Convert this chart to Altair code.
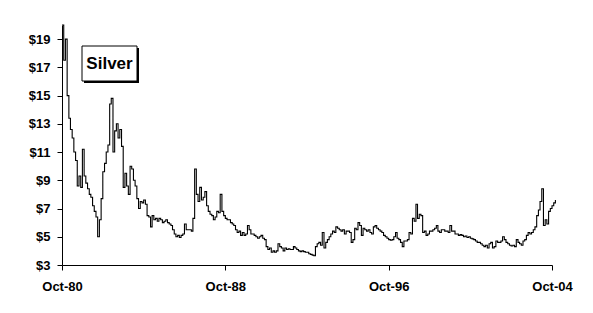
import altair as alt
import pandas as pd

# Monthly silver price (USD/oz), starting Oct 1980
prices = [
    20.0, 17.5, 19.0, 15.0, 13.4, 12.6, 12.0, 11.0, 10.4, 8.6, 9.3, 8.5,
    11.2, 9.3, 8.8, 8.4, 8.0, 7.8, 7.2, 6.8, 6.4, 5.0, 6.2, 7.7,
    9.6, 10.2, 11.0, 11.5, 14.4, 14.8, 11.0, 12.5, 13.0, 12.0, 12.6, 11.4,
    8.5, 9.5, 8.6, 8.0, 10.0, 9.8, 9.0, 8.6, 7.7, 7.0, 7.5, 7.4,
    7.6, 7.3, 6.5, 6.4, 5.7, 6.5, 6.2, 6.3, 6.1, 6.3, 6.2, 6.0,
    6.1, 6.2, 6.0, 5.9, 5.8, 5.5, 5.2, 5.0, 5.1, 4.95, 5.1, 5.2,
    5.9, 5.5, 5.5, 5.5, 5.4, 6.3, 9.8, 8.0, 7.5, 8.5, 7.6, 7.8,
    8.2, 7.2, 6.8, 6.6, 6.5, 6.2, 6.4, 6.8, 6.7, 8.0, 6.8, 6.5,
    6.3, 6.2, 6.2, 6.0, 5.9, 5.8, 5.5, 5.3, 5.4, 5.1, 5.3, 5.1,
    5.2, 5.8, 5.5, 5.2, 5.2, 5.1, 5.0, 4.9, 5.0, 5.1, 4.9, 4.8,
    4.3, 4.1, 4.2, 3.9, 4.0, 3.9, 4.0, 4.5, 4.3, 4.2, 4.0, 4.2,
    4.1, 4.15, 4.1, 4.1, 4.3, 4.2, 4.1, 4.0, 3.95, 4.0, 3.95, 3.9,
    3.9, 3.8, 3.75, 3.7, 3.65, 4.3, 4.5, 4.6, 4.4, 5.3, 4.2, 4.6,
    4.8, 5.0, 5.2, 5.4, 5.3, 5.7, 5.6, 5.5, 5.4, 5.5, 5.2, 5.4,
    5.4, 5.3, 4.6, 4.8, 5.6, 5.5, 6.0, 5.8, 5.1, 5.6, 5.5, 5.4,
    5.5, 5.3, 5.2, 5.7, 5.8, 5.6, 5.5, 5.4, 5.3, 5.1, 5.0, 4.9,
    4.8, 4.75, 4.8, 5.0, 5.3, 4.9, 4.8, 4.6, 4.3, 4.7, 4.7, 4.8,
    5.3, 5.2, 6.3, 6.1, 7.3, 6.3, 6.6, 6.5, 5.3, 5.4, 5.1, 5.2,
    5.4, 5.4, 5.5, 5.6, 5.8, 5.4, 5.3, 5.5, 5.5, 5.4, 5.4, 5.3,
    5.8, 5.4, 5.4, 5.2, 5.2, 5.1, 5.15, 5.1, 5.0, 5.05, 4.95, 5.0,
    4.9, 4.85, 4.8, 4.7, 4.6, 4.6, 4.5, 4.4, 4.3, 4.4, 4.2, 4.5,
    4.6, 4.2, 4.3, 4.7, 4.6, 4.6, 4.7, 5.0, 4.8, 4.6, 4.5, 4.4,
    4.35, 4.4, 4.3, 4.8, 4.6, 4.5, 4.4, 4.7, 4.8, 5.1, 5.3, 5.2,
    5.3, 5.5, 5.7, 6.5, 6.9, 7.5, 8.4, 5.8, 6.2, 5.9, 6.8, 7.0,
    7.2, 7.4, 7.6,
]
start_date = "1980-10-01"
y_ticks = [3, 5, 7, 9, 11, 13, 15, 17, 19]
x_tick_years = [1980, 1988, 1996, 2004]
label_text = ["Silver"]

dates = pd.date_range(start_date, periods=len(prices), freq="MS")
df = pd.DataFrame({"date": dates.strftime("%Y-%m-%d"), "price": prices})

FONT = "Liberation Sans"

line = alt.Chart(df).mark_line(
    color="black", strokeWidth=1.1, interpolate="step-after", clip=False
).encode(
    x=alt.X(
        "date:T",
        scale=alt.Scale(
            type="utc",
            domain=[alt.DateTime(year=1980, month=10, date=1, utc=True),
                    alt.DateTime(year=2004, month=10, date=1, utc=True)],
            nice=False,
        ),
        axis=alt.Axis(
            values=[alt.DateTime(year=y, month=10, date=1, utc=True) for y in x_tick_years],
            labelExpr="utcFormat(datum.value, '%b-%y')", title=None, grid=False,
            domainColor="black", tickColor="black", tickSize=5,
            labelFont=FONT, labelFontSize=13, labelFontWeight="bold",
            labelColor="black", labelPadding=10, labelFlush=False,
        ),
    ),
    y=alt.Y(
        "price:Q",
        scale=alt.Scale(domain=[3, 20], nice=False, zero=False),
        axis=alt.Axis(
            values=y_ticks, labelExpr="'$' + datum.value", title=None, grid=False,
            domainColor="black", tickColor="black", tickSize=5,
            labelFont=FONT, labelFontSize=13, labelFontWeight="bold",
            labelColor="black", labelPadding=7,
        ),
    ),
)

label_df = pd.DataFrame({"t": label_text})
shadow = alt.Chart(label_df).mark_rect(color="black").encode(
    x=alt.value(22), x2=alt.value(77), y=alt.value(23), y2=alt.value(58)
)
box = alt.Chart(label_df).mark_rect(fill="white", stroke="black", strokeWidth=1).encode(
    x=alt.value(20), x2=alt.value(75), y=alt.value(21), y2=alt.value(56)
)
text = alt.Chart(label_df).mark_text(
    font=FONT, fontSize=17, fontWeight="bold", color="black",
    align="center", baseline="middle"
).encode(x=alt.value(47.5), y=alt.value(39), text="t:N")

chart = alt.layer(line, shadow, box, text).properties(
    width=490, height=240,
    autosize=alt.AutoSizeParams(type="none"),
    padding={"left": 62, "top": 25, "right": 41, "bottom": 48},
    background="white",
).configure_view(stroke=None)

chart.save("out.html", embed_options={"renderer": "svg", "actions": False})
